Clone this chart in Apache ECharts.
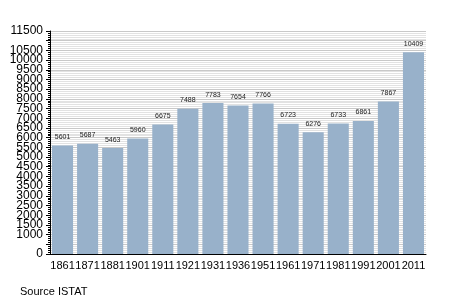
<!DOCTYPE html>
<html><head><meta charset="utf-8">
<script src="https://cdn.jsdelivr.net/npm/echarts@6/dist/echarts.min.js"></script>
<style>html,body{margin:0;padding:0;background:#fff}#c{width:455px;height:303px}</style>
</head><body><div id="c"></div>
<script>
const years = ['1861','1871','1881','1901','1911','1921','1931','1936','1951','1961','1971','1981','1991','2001','2011'];
const population = [5601,5687,5463,5960,6675,7488,7783,7654,7766,6723,6276,6733,6861,7867,10409];
const sourceText = 'Source ISTAT';

const chart = echarts.init(document.getElementById('c'), null, {renderer:'canvas'});
chart.setOption({
  animation:false,
  backgroundColor:'#fff',
  textStyle:{fontFamily:'Liberation Sans'},
  graphic:[{type:'text', left:20, top:286, style:{text:sourceText, font:'11px Liberation Sans', fill:'#000'}}],
  grid:{left:50, right:29, top:31, bottom:49, containLabel:false},
  xAxis:{
    type:'category', data:years,
    axisLine:{lineStyle:{color:'#000', width:1}},
    axisTick:{show:false},
    axisLabel:{color:'#000', fontSize:11, margin:6, interval:0}
  },
  yAxis:{
    type:'value', min:0, max:11500, interval:500,
    axisLine:{show:true, lineStyle:{color:'#000'}},
    axisTick:{show:true, length:4, lineStyle:{color:'#000'}},
    minorTick:{show:true, splitNumber:5, length:2, lineStyle:{color:'#000'}},
    axisLabel:{color:'#000', fontSize:12, margin:7, showMaxLabel:true, showMinLabel:true, hideOverlap:false,
      formatter:function(v){return String(v);}},
    splitLine:{show:true, lineStyle:{color:'#c8c8c8', width:1}},
    minorSplitLine:{show:true, lineStyle:{color:'#e2e2e2', width:1}}
  },
  series:[{
    type:'bar', data:population, barCategoryGap:'16%',
    itemStyle:{color:'#98b1ca'},
    label:{show:true, position:'top', fontSize:7, color:'#222', distance:5}
  }]
});
</script></body></html>
